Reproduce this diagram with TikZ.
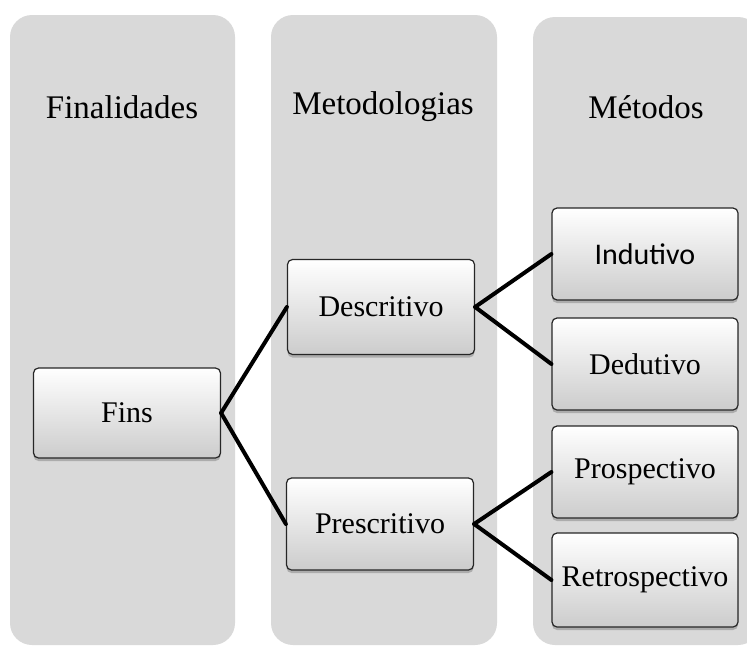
\documentclass[tikz,border=0pt]{standalone}
\usepackage{fontspec}
\setmainfont{Liberation Serif}
\newfontfamily\calibfont{Carlito}
\usetikzlibrary{shadows}
\tikzset{
  colbg/.style={fill=black!15, rounded corners=22pt},
  header/.style={font=\fontsize{33}{40}\selectfont, inner sep=0pt},
  itembox/.style={rectangle, rounded corners=5pt, minimum width=187pt, minimum height=92pt,
    draw=black!85, line width=1.2pt, top color=white, bottom color=black!20,
    drop shadow={opacity=0.5, shadow xshift=0pt, shadow yshift=-3pt},
    font=\fontsize{30}{36}\selectfont},
  conn/.style={draw=black, line width=4pt, line cap=round}
}
\begin{document}
\begin{tikzpicture}[x=1pt,y=-1pt]
\useasboundingbox (0,0) rectangle (747,648);
\clip (0,0) rectangle (747,648);
\fill[white] (0,0) rectangle (747,648);
% columns
\fill[colbg] (10,15) rectangle (235,645);
\fill[colbg] (271,15) rectangle (497,645);
\fill[colbg] (533,17) rectangle (760,645);
% headers
\node[header] (h1) at (122,107) {Finalidades};
\node[header] (h2) at (383,107) {Metodologias};
\node[header] (h3) at (646,107) {Métodos};
% boxes
\node[itembox, minimum height=90pt] (fins) at (127,413) {Fins};
\node[itembox, minimum height=95pt] (desc) at (381,307) {Descritivo};
\node[itembox] (pres) at (380,524) {Prescritivo};
\node[itembox, minimum width=186pt] (ind) at (645,254) {\calibfont Indutivo};
\node[itembox, minimum width=186pt] (ded) at (645,364) {Dedutivo};
\node[itembox, minimum width=186pt] (pros) at (645,472) {Prospectivo};
\node[itembox, minimum width=186pt, minimum height=94pt] (retro) at (645,580) {Retrospectivo};
% connectors
\draw[conn] (fins.east) -- (desc.west);
\draw[conn] (fins.east) -- (pres.west);
\draw[conn] (desc.east) -- (ind.west);
\draw[conn] (desc.east) -- (ded.west);
\draw[conn] (pres.east) -- (pros.west);
\draw[conn] (pres.east) -- (retro.west);
\end{tikzpicture}
\end{document}
